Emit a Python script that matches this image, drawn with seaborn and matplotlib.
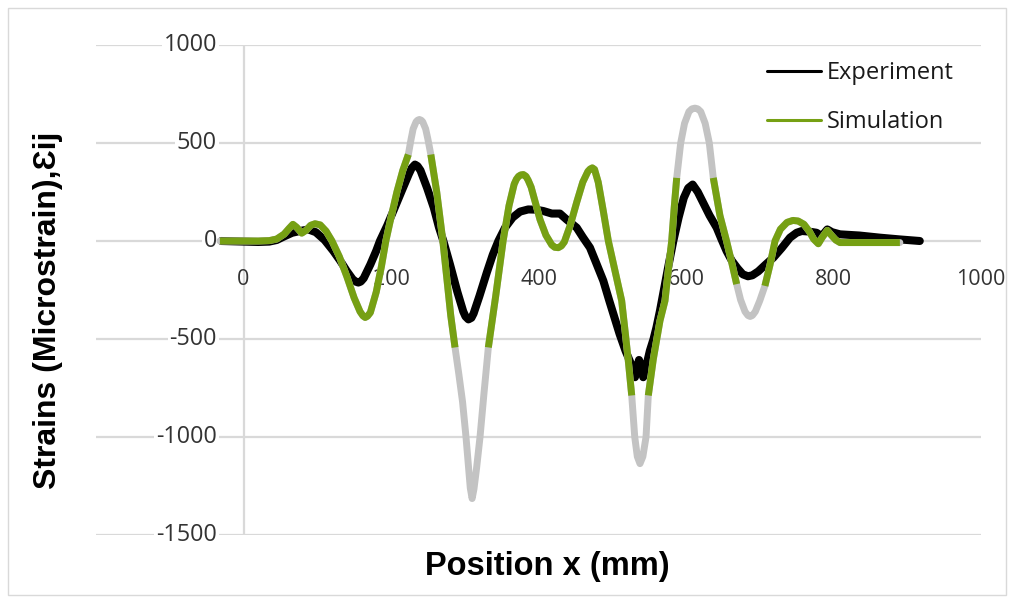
import numpy as np
import pandas as pd
import seaborn as sns
import matplotlib
matplotlib.use("Agg")
import matplotlib.pyplot as plt
from matplotlib.lines import Line2D
from matplotlib.patches import Rectangle

# ---------------- data ----------------
exp_x = [-30, 0, 20, 35, 45, 56, 66, 76.6, 88, 98, 110, 121.8, 131, 140, 148, 152, 155.7, 159, 163,
         172, 180, 185, 195, 205, 215, 224, 228, 232.5, 236, 240, 249, 258, 265, 271, 280, 290, 298,
         301, 305, 309, 312, 320, 330, 338, 345.6, 355, 365, 375, 386, 396, 406.5, 418, 429, 438,
         451.8, 460, 469.8, 478, 487.9, 496, 503, 510, 518, 526.4, 530.8, 534, 536.3, 539, 542, 546,
         551, 556, 560, 564.7, 570, 576, 582.8, 590, 597, 603, 609, 616, 624, 632, 641.6, 648, 655,
         662, 670, 677, 684, 690, 698, 708, 718.4, 730, 741, 750, 757, 767, 777, 784, 791.6, 798,
         808.8, 835, 863, 890, 917]
exp_y = [0, -3, -5, -3, 5, 25, 42, 51, 59, 45, 5, -51, -100, -153, -195, -207, -212, -207, -190,
         -120, -50, 0, 80, 170, 260, 340, 372, 390, 382, 360, 270, 170, 70, 0, -120, -260, -360,
         -385, -400, -392, -370, -280, -160, -70, 0, 70, 120, 150, 161, 160, 153, 140, 140, 110,
         68, 20, -34, -110, -203, -305, -390, -475, -560, -636, -695, -640, -607, -640, -695, -640,
         -560, -500, -440, -356, -250, -130, 0, 120, 220, 270, 288, 250, 190, 130, 68, 10, -51,
         -100, -140, -170, -180, -175, -155, -120, -85, -35, 17, 42, 51, 48, 42, 25, 59, 45,
         34, 28, 17, 8, 0]

sim_x = [-32, 0, 20, 35, 45, 55, 62, 67, 72, 79, 85, 91, 97, 104, 112, 120, 130, 140, 150, 158,
         162, 165, 168, 172, 180, 187, 193, 200, 208, 216, 223.5, 227, 230, 234, 236, 238.5, 241,
         243, 247, 250, 254, 262, 270, 276, 281, 286.8, 292, 297, 301.7, 305, 307.5, 310, 312.5,
         316, 320.7, 326, 332, 342, 352, 360, 367, 370, 373, 376, 379.4, 383, 386, 390, 394, 402,
         410, 418, 422, 426.8, 431, 435, 443, 452, 460, 467, 470, 473, 476, 481, 488, 494.7, 503,
         512.8, 518, 522, 526.4, 530.5, 534, 537.6, 541.5, 545.8, 548.9, 555.7, 564.7, 571.5, 576,
         580.6, 584, 587.4, 592.8, 598, 604, 608, 612.2, 616, 620, 626, 631.6, 637, 646, 655, 662,
         668.7, 674, 680, 684, 687, 690, 694, 700, 707, 714, 720.7, 728, 737, 745, 752, 760, 767,
         773, 779.4, 785, 791.6, 797, 803, 808.8, 830, 860, 890]
sim_y = [0, 0, 0, 2, 10, 35, 65, 85, 70, 40, 55, 80, 88, 82, 50, 0, -80, -180, -290, -360,
         -382, -390, -384, -365, -260, -130, 0, 120, 250, 360, 441, 515, 572, 608, 616, 620, 616,
         608, 572, 520, 441, 250, 10, -200, -380, -543, -680, -820, -1000, -1150, -1260, -1314, -1265,
         -1160, -1000, -780, -543, -280, 0, 180, 290, 315, 330, 337, 339, 330, 310, 275, 220, 110,
         30, -20, -32, -34, -25, -5, 80, 200, 300, 355, 367, 373, 365, 300, 150, 0, -140,
         -305, -480, -620, -788, -1000, -1100, -1136, -1100, -1000, -788, -602, -407, -305, -150,
         0, 170, 322, 500, 600, 660, 674, 678, 674, 660, 600, 500, 322, 130, 0, -110,
         -220, -300, -360, -380, -385, -380, -360, -305, -229, -120, 0, 60, 95, 105, 102, 85, 50,
         10, -14, 20, 54, 30, 5, -8, -8, -8, -8]

# x-ranges where the simulation trace is shown in grey
grey_ranges = [(223.5, 254), (286.8, 332), (526.4, 548.9), (587.4, 637), (668.7, 707)]

series_names = ["Experiment", "Simulation"]
y_ticks = [1000, 500, 0, -500, -1000, -1500]
x_ticks = [0, 200, 400, 600, 800, 1000]

# ---------------- frames ----------------
exp_df = pd.DataFrame({"x": exp_x, "y": exp_y})
sim_df = pd.DataFrame({"x": sim_x, "y": sim_y})

bounds = [-np.inf] + [v for r in grey_ranges for v in r] + [np.inf]
parts = []
for k in range(len(grey_ranges) + 1):
    lo, hi = bounds[2 * k], bounds[2 * k + 1]
    seg = sim_df[(sim_df.x >= lo) & (sim_df.x <= hi)].copy()
    seg["seg"] = k
    parts.append(seg)
green_df = pd.concat(parts, ignore_index=True)

# ---------------- plot ----------------
sns.set_theme(style="white")
plt.rcParams["font.family"] = ["Open Sans", "DejaVu Sans"]

W, H = 1013, 597
fig = plt.figure(figsize=(W / 100, H / 100), dpi=100)
ax = fig.add_axes([96 / W, 1 - 535 / H, (981 - 96) / W, (535 - 45) / H])

GREEN = "#76a013"
GREY = "#c3c3c3"
GRID = "#d9d9d9"

ax.set_xlim(-200, 1000)
ax.set_ylim(-1500, 1000)
ax.set_yticks(y_ticks)
ax.set_xticks([])
ax.yaxis.grid(True, color=GRID, lw=1.6)
ax.set_axisbelow(True)
ax.tick_params(left=False, labelleft=False, bottom=False, labelbottom=False)
for s in ax.spines.values():
    s.set_visible(False)
ax.axvline(0, color=GRID, lw=1.6, zorder=0.6)

sns.lineplot(data=exp_df, x="x", y="y", sort=False, estimator=None, color="black",
             lw=5.8, ax=ax, zorder=3, solid_capstyle="round", solid_joinstyle="round")
sns.lineplot(data=sim_df, x="x", y="y", sort=False, estimator=None, color=GREY,
             lw=5.0, ax=ax, zorder=4, solid_capstyle="round", solid_joinstyle="round")
sns.lineplot(data=green_df, x="x", y="y", units="seg", sort=False, estimator=None, color=GREEN,
             lw=5.0, ax=ax, zorder=5, solid_capstyle="butt", solid_joinstyle="round")
ax.set_xlabel("")
ax.set_ylabel("")

bb = dict(boxstyle="square,pad=0.08", fc="white", ec="none")
for v in y_ticks:
    ax.text(-36, v, str(v), ha="right", va="center", fontsize=16.8, color="#333333",
            bbox=bb, zorder=1.5)
for v in x_ticks:
    ax.text(v, -194, str(v), ha="center", va="center", fontsize=15.5, color="#333333",
            zorder=1.5)

handles = [Line2D([], [], color="black", lw=2.2), Line2D([], [], color=GREEN, lw=2.2)]
leg = ax.legend(handles, series_names, loc="upper left",
                bbox_to_anchor=(767 / W, 1 - 61 / H), bbox_transform=fig.transFigure,
                frameon=False, fontsize=17, handlelength=2.3, handletextpad=0.25,
                labelspacing=1.06, borderpad=0, borderaxespad=0)
for t in leg.get_texts():
    t.set_color("#1a1a1a")

fig.text(547.5 / W, 1 - 567 / H, "Position x (mm)", ha="center", va="center", color="black",
         fontsize=23.5, fontweight="bold", family=["Liberation Sans", "DejaVu Sans"])
fig.text(48 / W, 1 - 310 / H, "Strains (Microstrain),\u0190ij", ha="center", va="center",
         rotation=90, fontsize=23, fontweight="bold", color="black",
         family=["Liberation Sans", "DejaVu Sans"])

fig.patches.append(Rectangle((8 / W, 2 / H), (1006 - 8) / W, (595 - 8) / H,
                             transform=fig.transFigure, fill=False, ec=GRID, lw=1.0))

fig.savefig("out.png", dpi=100)
